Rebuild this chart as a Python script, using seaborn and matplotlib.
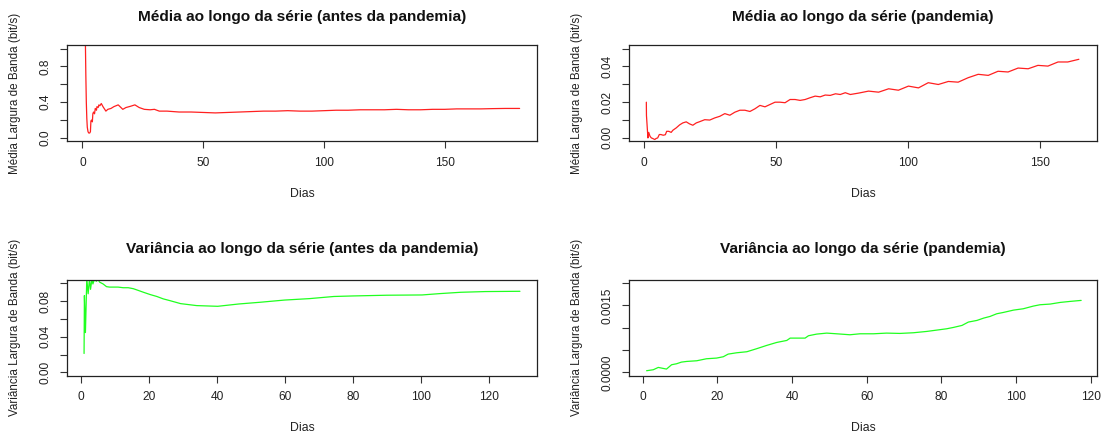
import matplotlib
matplotlib.use("Agg")
import matplotlib.pyplot as plt
import seaborn as sns
import pandas as pd

# ---------------- data ----------------
days_media_antes = [0.8, 1.0, 1.2, 1.4, 1.6, 1.8, 2.0, 2.3, 2.6, 3.0, 3.3, 3.5, 3.8, 4.1, 4.3,
                    4.6, 5.0, 5.3, 5.8, 6.0, 6.5, 6.8, 7.2, 7.8, 8.5, 9.7, 10.5, 11.8, 13.0,
                    14.8, 16.7, 18.0, 20.0, 21.7, 23.5, 25.6, 28.0, 29.8, 31.8, 35, 40, 45,
                    50, 55, 60, 65, 70, 75, 80, 85, 90, 95, 100, 105, 110, 115, 120, 125,
                    130, 135, 140, 145, 150, 155, 160, 165, 170, 175, 181]
media_antes = [1.9, 1.6, 1.1, 0.7, 0.4, 0.22, 0.12, 0.07, 0.055, 0.055, 0.07, 0.19, 0.20,
               0.18, 0.27, 0.29, 0.27, 0.33, 0.31, 0.35, 0.34, 0.37, 0.36, 0.385, 0.35, 0.30,
               0.32, 0.33, 0.35, 0.37, 0.32, 0.34, 0.355, 0.37, 0.34, 0.32, 0.315, 0.32,
               0.30, 0.30, 0.29, 0.29, 0.285, 0.28, 0.285, 0.29, 0.295, 0.30, 0.30, 0.305,
               0.30, 0.30, 0.305, 0.31, 0.31, 0.315, 0.315, 0.315, 0.32, 0.315, 0.315,
               0.32, 0.32, 0.325, 0.325, 0.325, 0.328, 0.33, 0.33]

days_media_pand = [1.0, 1.05, 1.6, 1.9, 2.4, 2.9, 3.4, 4.2, 4.7, 5.3, 5.9, 6.5, 7.4, 8.2, 8.7,
                   9.5, 10.4, 11.05, 12.3, 13.6, 14.8, 16.1, 17.3, 18.6, 19.9, 21.2, 23.1,
                   25.0, 26.9, 28.8, 30.7, 32.6, 34.5, 36.4, 38.3, 40.2, 42.1, 44.0, 45.9,
                   47.8, 49.7, 51.6, 53.5, 55.4, 57.3, 59.2, 61.1, 63.0, 64.9, 66.8, 68.7,
                   70.6, 72.6, 74.4, 76.3, 78.2, 81.4, 85.1, 88.9, 92.7, 96.4, 100.2, 104.0,
                   107.7, 111.5, 115.3, 119.0, 122.8, 126.6, 130.4, 134.1, 137.9, 141.7,
                   145.5, 149.2, 153.0, 156.8, 160.5, 164.7]
media_pand = [0.0200, 0.0125, 0.0000, 0.0031, 0.0009, 0.0000, -0.0003, -0.0009, -0.0003,
              0.0000, 0.0019, 0.0019, 0.0015, 0.0018, 0.0037, 0.0037, 0.0031, 0.0043, 0.0056,
              0.0073, 0.0084, 0.0090, 0.0079, 0.0071, 0.0084, 0.0091, 0.0102, 0.0100,
              0.0112, 0.0121, 0.0136, 0.0127, 0.0144, 0.0155, 0.0155, 0.0148, 0.0163,
              0.0182, 0.0174, 0.0187, 0.0200, 0.0200, 0.0197, 0.0215, 0.0215, 0.0210,
              0.0215, 0.0225, 0.0234, 0.0230, 0.0240, 0.0238, 0.0247, 0.0243, 0.0253,
              0.0243, 0.0251, 0.0262, 0.0256, 0.0275, 0.0267, 0.0290, 0.0280, 0.0309,
              0.0299, 0.0316, 0.0312, 0.0337, 0.0356, 0.0350, 0.0373, 0.0369, 0.0391,
              0.0387, 0.0406, 0.0402, 0.0425, 0.0425, 0.0440]

days_var_antes = [0.9, 1.0, 1.3, 1.7, 2.1, 2.5, 2.8, 3.2, 3.5, 4.0, 4.5, 5.0, 5.5, 6.0, 6.5,
                  7.5, 8.4, 9.4, 10.9, 12.4, 13.9, 15.4, 16.9, 18.3, 20.3, 22.3, 24.2, 26.1,
                  29.3, 34.0, 40.2, 46.4, 52.6, 59.9, 67.2, 74.4, 80.1, 89.9, 100.3, 105.5,
                  111.7, 119.0, 129.1]
var_antes = [0.0212, 0.086, 0.0446, 0.105, 0.088, 0.105, 0.093, 0.104, 0.099, 0.105, 0.102,
             0.104, 0.101, 0.100, 0.099, 0.096, 0.0955, 0.0955, 0.0955, 0.0948, 0.0948,
             0.0937, 0.0917, 0.0898, 0.0872, 0.0850, 0.0823, 0.0804, 0.0770, 0.0748,
             0.0740, 0.0766, 0.0785, 0.0810, 0.0826, 0.0850, 0.0856, 0.0864, 0.0867,
             0.0882, 0.0897, 0.0905, 0.0908]

days_var_pand = [1.07, 2.85, 4.2, 5.1, 6.4, 7.76, 9.1, 10.4, 11.8, 14.5, 17.1, 19.8, 21.6,
                 22.9, 25.2, 27.9, 30.5, 33.2, 35.9, 38.6, 39.5, 43.5, 44.4, 46.6, 49.3,
                 51.9, 55.5, 58.2, 61.8, 65.3, 68.9, 72.5, 76.1, 78.7, 81.4, 83.2, 85.5,
                 87.2, 89.5, 91.3, 93.0, 94.8, 96.6, 99.3, 101.9, 104.6, 106.4, 109.1, 111.8,
                 114.5, 117.4]
var_pand = [0.000038, 0.000060, 0.000112, 0.000097, 0.000075, 0.000172, 0.000194, 0.000231,
            0.000246, 0.000261, 0.000306, 0.000321, 0.000351, 0.000410, 0.000440, 0.000463,
            0.000530, 0.000604, 0.000671, 0.000716, 0.000768, 0.000768, 0.000821, 0.000858,
            0.000880, 0.000865, 0.000843, 0.000865, 0.000865, 0.000880, 0.000873, 0.000888,
            0.000918, 0.000947, 0.000977, 0.001007, 0.001052, 0.001127, 0.001164, 0.001216,
            0.001253, 0.001313, 0.001343, 0.001395, 0.001425, 0.001485, 0.001515, 0.001530,
            0.001567, 0.001590, 0.001612]

titles = ["Média ao longo da série (antes da pandemia)",
          "Média ao longo da série (pandemia)",
          "Variância ao longo da série (antes da pandemia)",
          "Variância ao longo da série (pandemia)"]
ylabels = ["Média Largura de Banda (bit/s)", "Média Largura de Banda (bit/s)",
           "Variância Largura de Banda (bit/s)", "Variância Largura de Banda (bit/s)"]
xlabel = "Dias"

xticks = [[0, 50, 100, 150], [0, 50, 100, 150],
          [0, 20, 40, 60, 80, 100, 120], [0, 20, 40, 60, 80, 100, 120]]
yticks = [[0.0, 0.2, 0.4, 0.6, 0.8, 1.0],
          [0.00, 0.01, 0.02, 0.03, 0.04, 0.05],
          [0.00, 0.02, 0.04, 0.06, 0.08, 0.10],
          [0.0, 0.0005, 0.0010, 0.0015, 0.0020]]
ytick_labels = [["0.0", "", "0.4", "", "0.8", ""],
                ["0.00", "", "0.02", "", "0.04", ""],
                ["0.00", "", "0.04", "", "0.08", ""],
                ["0.0000", "", "", "0.0015", ""]]

# ---------------- style ----------------
sns.set_style("white")
plt.rcParams["font.family"] = ["Liberation Sans", "DejaVu Sans"]
plt.rcParams["axes.edgecolor"] = "black"
plt.rcParams["axes.linewidth"] = 0.9

W, H = 1103, 436
fig = plt.figure(figsize=(W / 100, H / 100), dpi=100)

# axes boxes in pixels: (left, top, right, bottom)
boxes = [(67, 45, 537, 141.5), (629, 45, 1097, 141.5),
         (67, 279.5, 537, 376), (629, 279.5, 1097, 376)]
xlims = [(-6.4, 188.2), (-5.56, 171.56), (-4.12, 134.12), (-3.64, 121.64)]
ylims = [(-0.04, 1.04), (-0.002, 0.052), (-0.004, 0.104), (-0.00008, 0.00208)]
colors = ["#FF2020", "#FF2020", "#20FF20", "#20FF20"]
series = [(days_media_antes, media_antes), (days_media_pand, media_pand),
          (days_var_antes, var_antes), (days_var_pand, var_pand)]

for i in range(4):
    l, t, r, b = boxes[i]
    ax = fig.add_axes([l / W, 1 - b / H, (r - l) / W, (b - t) / H])
    df = pd.DataFrame({"Dias": series[i][0], "valor": series[i][1]})
    sns.lineplot(data=df, x="Dias", y="valor", ax=ax, color=colors[i],
                 linewidth=0.9, estimator=None, sort=False)
    ax.set_xlim(*xlims[i])
    ax.set_ylim(*ylims[i])
    ax.set_xticks(xticks[i])
    ax.set_xticklabels([str(v) for v in xticks[i]])
    ax.set_yticks(yticks[i])
    ax.set_yticklabels(ytick_labels[i], rotation=90, va="center")
    ax.tick_params(axis="both", direction="out", length=5, width=0.8,
                   color="#333333", labelsize=8.6, labelcolor="#222222",
                   bottom=True, left=True)
    ax.tick_params(axis="x", pad=6)
    ax.tick_params(axis="y", pad=6)
    for s in ax.spines.values():
        s.set_visible(True)
        s.set_color("#222222")
        s.set_linewidth(0.9)
    ax.set_xlabel(xlabel, fontsize=8.8, color="#222222")
    ax.set_ylabel(ylabels[i], fontsize=8.4, color="#222222")
    hbox = b - t
    wbox = r - l
    xlab_y = 194 if i < 2 else 428
    ax.xaxis.set_label_coords(0.5, (b - xlab_y) / hbox)
    ax.xaxis.label.set_va("center")
    ylab_x = 15 if i % 2 == 0 else 577
    ax.yaxis.set_label_coords((ylab_x - l) / wbox, 0.5)
    ax.yaxis.label.set_va("center")
    title_y = 17 if i < 2 else 249
    ax.set_title(titles[i], fontsize=11.1, fontweight="bold", color="#111111",
                 y=(b - title_y) / hbox, va="center", pad=0)

fig.savefig("out.png", dpi=100)
